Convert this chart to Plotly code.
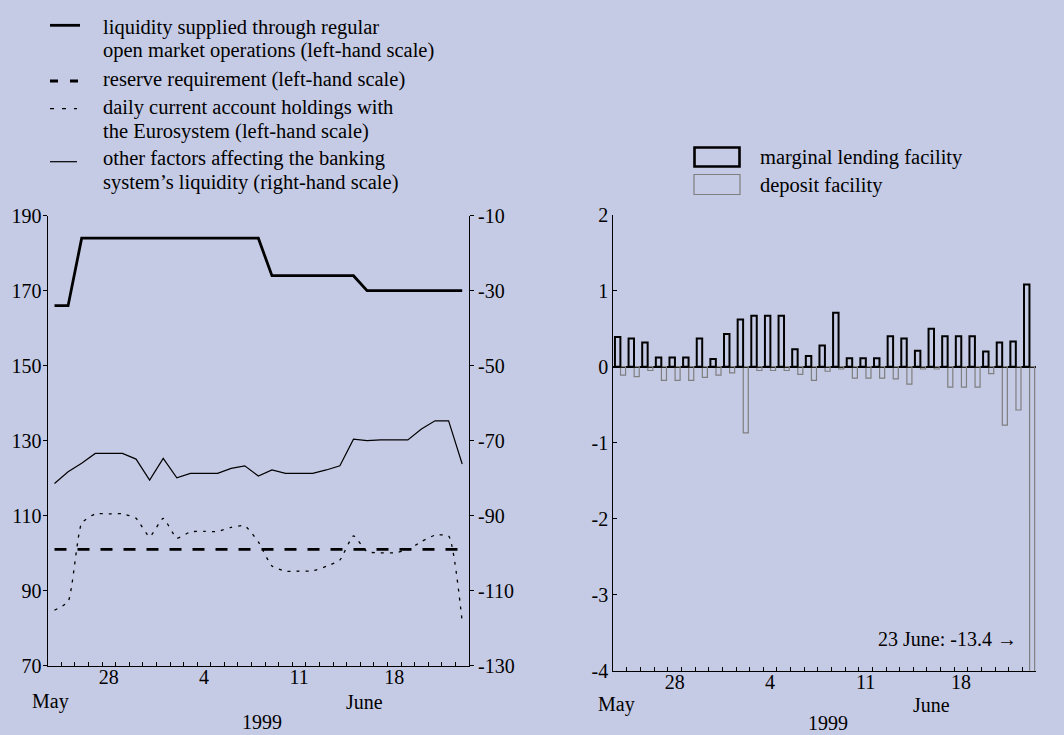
import pandas as pd
import plotly.graph_objects as go

# ---------------- data ----------------
dates = pd.date_range("1999-05-24", "1999-06-23", freq="D")

# left-hand scale (EUR billions)
omo_liquidity = [166, 166, 184, 184, 184, 184, 184, 184, 184, 184, 184, 184, 184, 184, 184, 184,
                 174, 174, 174, 174, 174, 174, 174, 170, 170, 170, 170, 170, 170, 170, 170]
reserve_requirement = [101, 101, 101, 101, 101, 101, 101, 101, 101, 101, 101, 101, 101, 101, 101, 101,
                       101, 101, 101, 101, 101, 101, 101, 101, 101, 101, 101, 101, 101, 101, 101]
current_accounts = [84.8, 87.1, 108.0, 110.5, 110.5, 110.5, 109.3, 104.4, 109.3, 104.0, 105.7,
                    105.8, 105.8, 106.9, 107.3, 103.0, 96.6, 95.2, 95.2, 95.3, 96.5, 98.2,
                    104.6, 100.4, 100.1, 100.1, 100.9, 103.1, 104.8, 104.6, 81.7]
# right-hand scale
other_factors = [-81.4, -78.3, -76.0, -73.4, -73.4, -73.4, -74.9, -80.5, -74.7, -79.9, -78.7,
                 -78.7, -78.7, -77.4, -76.7, -79.4, -77.8, -78.7, -78.7, -78.7, -77.8, -76.7,
                 -69.6, -70.0, -69.8, -69.8, -69.8, -66.9, -64.7, -64.7, -76.2]

# standing facilities
marginal_lending = [0.39, 0.37, 0.32, 0.12, 0.12, 0.12, 0.37, 0.10, 0.43, 0.62, 0.67, 0.67, 0.67,
                    0.23, 0.14, 0.28, 0.71, 0.11, 0.11, 0.11, 0.40, 0.37, 0.21, 0.50, 0.40, 0.40,
                    0.40, 0.20, 0.32, 0.33, 1.08]
deposit_facility = [-0.11, -0.13, -0.05, -0.18, -0.18, -0.18, -0.14, -0.11, -0.08, -0.87, -0.05,
                    -0.05, -0.05, -0.10, -0.18, -0.06, -0.03, -0.15, -0.15, -0.15, -0.16, -0.23,
                    -0.03, -0.03, -0.27, -0.27, -0.27, -0.09, -0.77, -0.57, -13.4]

tick_dates = ["1999-05-28", "1999-06-04", "1999-06-11", "1999-06-18"]
tick_labels = ["28", "4", "11", "18"]
left_ticks = [70, 90, 110, 130, 150, 170, 190]
right_ticks = [-130, -110, -90, -70, -50, -30, -10]
fac_ticks = [-4, -3, -2, -1, 0, 1, 2]

legend_left = [
    "liquidity supplied through regular",
    "open market operations (left-hand scale)",
    "reserve requirement (left-hand scale)",
    "daily current account holdings with",
    "the Eurosystem (left-hand scale)",
    "other factors affecting the banking",
    "system\u2019s liquidity (right-hand scale)",
]
legend_right = ["marginal lending facility", "deposit facility"]

# ---------------- helpers ----------------
W, H = 1064, 735
BG = "rgb(198,203,229)"
FONT = "Liberation Serif"


def pxx(v):
    return v / W


def pxy(v):
    return 1 - v / H


day = [(d - dates[0]).days for d in dates]
n = len(day)
tick_pos = [(pd.Timestamp(t) - dates[0]).days for t in tick_dates]
boundaries = [d + 0.5 for d in day[:-1]]
month_start = [(d - dates[0]).days - 0.5 for d in dates if d.day == 1]
xrange_ = [-0.5, n - 0.5]

fig = go.Figure()

# left panel
fig.add_trace(go.Scatter(x=day, y=reserve_requirement, mode="lines", xaxis="x", yaxis="y",
                         line=dict(color="black", width=2.8, dash="12px,11px"), showlegend=False))
fig.add_trace(go.Scatter(x=day, y=current_accounts, mode="lines", xaxis="x", yaxis="y",
                         line=dict(color="black", width=1.3, dash="3px,6px", shape="spline",
                                   smoothing=0.5), showlegend=False))
fig.add_trace(go.Scatter(x=day, y=omo_liquidity, mode="lines", xaxis="x", yaxis="y",
                         line=dict(color="black", width=2.8), showlegend=False))
fig.add_trace(go.Scatter(x=day, y=other_factors, mode="lines", xaxis="x", yaxis="y2",
                         line=dict(color="black", width=1.2), showlegend=False))

# right panel
fig.add_trace(go.Bar(x=day, y=deposit_facility, xaxis="x2", yaxis="y3", width=0.37, offset=0.03,
                     marker=dict(color="rgba(0,0,0,0)", line=dict(color="#7f7f7f", width=1.2)),
                     showlegend=False))
fig.add_trace(go.Bar(x=day, y=marginal_lending, xaxis="x2", yaxis="y3", width=0.40, offset=-0.38,
                     marker=dict(color="rgba(0,0,0,0)", line=dict(color="black", width=2)),
                     showlegend=False))

left_dom_x = [pxx(47.7), pxx(469)]
left_dom_y = [pxy(665.7), pxy(215.7)]
right_dom_x = [pxx(613.3), pxx(1036)]
right_dom_y = [pxy(670.7), pxy(214.7)]

tickfont = dict(family=FONT, size=20, color="black")


def xaxis_main(domain, anchor, standoff):
    return dict(domain=domain, anchor=anchor, range=xrange_, showline=True, linecolor="black",
                linewidth=1.2, showgrid=False, zeroline=False, tickmode="array",
                tickvals=tick_pos, ticktext=tick_labels, ticks="", tickfont=tickfont,
                ticklabelstandoff=standoff,
                minor=dict(tickmode="array", tickvals=boundaries, ticks="inside", ticklen=4,
                           tickwidth=1, tickcolor="black", showgrid=False))


def xaxis_month(over, anchor):
    return dict(overlaying=over, anchor=anchor, range=xrange_, showline=False, showgrid=False,
                zeroline=False, tickmode="array", tickvals=month_start, ticks="inside",
                ticklen=9, tickwidth=1.3, tickcolor="black", showticklabels=False)


fig.update_layout(
    width=W, height=H, template="none", autosize=False,
    paper_bgcolor=BG, plot_bgcolor=BG,
    margin=dict(l=0, r=0, t=0, b=0),
    font=dict(family=FONT, size=20, color="black"),
    barmode="overlay",
    showlegend=False,
    xaxis=xaxis_main(left_dom_x, "y", -7),
    xaxis3=xaxis_month("x", "y"),
    xaxis2=xaxis_main(right_dom_x, "y3", -7),
    xaxis4=xaxis_month("x2", "y3"),
    yaxis=dict(domain=left_dom_y, anchor="x", range=[70, 190], tickmode="array",
               tickvals=left_ticks, ticktext=[str(v) for v in left_ticks], ticks="outside",
               ticklen=4, tickcolor="black", showline=True, linecolor="black", linewidth=1.2,
               showgrid=False, zeroline=False, tickfont=tickfont, ticklabelstandoff=-3),
    yaxis2=dict(overlaying="y", side="right", anchor="x", range=[-130, -10], tickmode="array",
                tickvals=right_ticks, ticktext=[str(v) for v in right_ticks], ticks="outside",
                ticklen=4, tickcolor="black", showline=True, linecolor="black", linewidth=1.2,
                showgrid=False, zeroline=False, tickfont=tickfont),
    yaxis3=dict(domain=right_dom_y, anchor="x2", range=[-4, 2], tickmode="array",
                tickvals=fac_ticks, ticktext=[str(v) for v in fac_ticks], ticks="inside",
                ticklen=4, tickcolor="black", showline=True, linecolor="black", linewidth=1.2,
                showgrid=False, zeroline=True, zerolinecolor="black", zerolinewidth=2,
                tickfont=tickfont),
    yaxis4=dict(overlaying="y3", side="right", anchor="x2", range=[-4, 2], tickmode="array",
                tickvals=fac_ticks, ticktext=[str(v) for v in fac_ticks], ticks="inside",
                ticklen=4, tickcolor="black", showline=True, linecolor="black", linewidth=1.2,
                showgrid=False, zeroline=False, tickfont=tickfont, ticklabelstandoff=5),
)

ann = []
# period labels under the x axes
for xr, ym, yy in (("x", 701.7, 722), ("x2", 704.5, 723)):
    ann.append(dict(text="May", x=-0.3, xref=xr, y=pxy(ym), yref="paper", showarrow=False,
                    xanchor="center", yanchor="middle"))
    ann.append(dict(text="June", x=22.8, xref=xr, y=pxy(ym), yref="paper", showarrow=False,
                    xanchor="center", yanchor="middle"))
    ann.append(dict(text="1999", x=15.25, xref=xr, y=pxy(yy), yref="paper", showarrow=False,
                    xanchor="center", yanchor="middle"))

ann.append(dict(text="23 June: -13.4 \u2192", x=29.25, xref="x2", y=-3.58, yref="y3",
                showarrow=False, xanchor="right", yanchor="middle"))

# left legend (text)
legend_left_y = [27.2, 50.6, 79.6, 107.9, 131.2, 158.6, 182.9]
for txt, yy in zip(legend_left, legend_left_y):
    ann.append(dict(text=txt, x=pxx(101), xref="paper", y=pxy(yy), yref="paper",
                    showarrow=False, xanchor="left", yanchor="middle",
                    font=dict(family=FONT, size=20.5, color="black")))
# right legend (text)
for txt, yy in zip(legend_right, [157.9, 186.0]):
    ann.append(dict(text=txt, x=pxx(758), xref="paper", y=pxy(yy), yref="paper",
                    showarrow=False, xanchor="left", yanchor="middle",
                    font=dict(family=FONT, size=20.5, color="black")))
fig.update_layout(annotations=ann)

# legend keys
shapes = [
    dict(type="line", xref="paper", yref="paper", x0=pxx(50), x1=pxx(80), y0=pxy(25.3), y1=pxy(25.3),
         line=dict(color="black", width=2.8)),
    dict(type="line", xref="paper", yref="paper", x0=pxx(50), x1=pxx(80), y0=pxy(81), y1=pxy(81),
         line=dict(color="black", width=2.8, dash="8px,12px")),
    dict(type="line", xref="paper", yref="paper", x0=pxx(50), x1=pxx(77), y0=pxy(108.7), y1=pxy(108.7),
         line=dict(color="black", width=1.3, dash="4px,8px")),
    dict(type="line", xref="paper", yref="paper", x0=pxx(50), x1=pxx(77), y0=pxy(161.7), y1=pxy(161.7),
         line=dict(color="black", width=1.2)),
    dict(type="rect", xref="paper", yref="paper", x0=pxx(694.5), x1=pxx(739.5), y0=pxy(147.5), y1=pxy(166.5),
         line=dict(color="black", width=2.6), fillcolor="rgba(0,0,0,0)"),
    dict(type="rect", xref="paper", yref="paper", x0=pxx(694), x1=pxx(740), y0=pxy(174.5), y1=pxy(194.5),
         line=dict(color="#7f7f7f", width=1.2), fillcolor="rgba(0,0,0,0)"),
]
fig.update_layout(shapes=shapes)

fig.write_html(
    "out.html",
    config={"displayModeBar": False},
    post_script="document.body.style.margin='0';document.body.style.background='rgb(198,203,229)';",
)
